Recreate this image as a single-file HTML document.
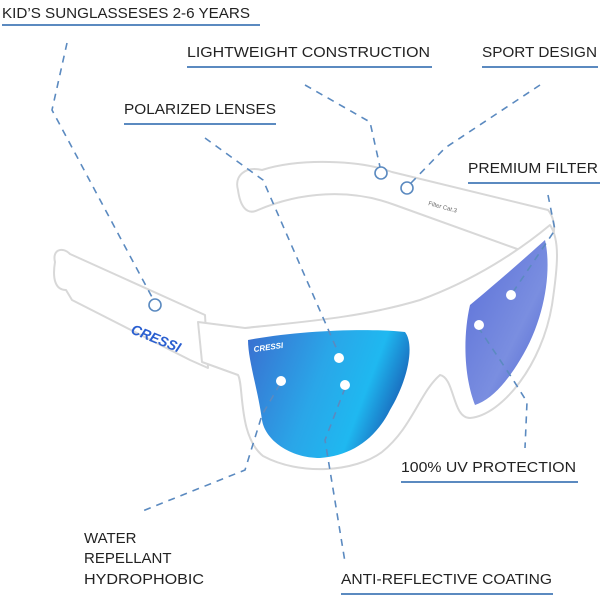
<!DOCTYPE html>
<html><head><meta charset="utf-8"><style>
html,body{margin:0;padding:0;background:#fff;width:600px;height:599px;overflow:hidden}
svg{display:block}
text{font-family:"Liberation Sans",sans-serif;font-size:15px;fill:#222}
</style></head><body>
<svg width="600" height="599" viewBox="0 0 600 599" xmlns="http://www.w3.org/2000/svg">
<defs>
<linearGradient id="gl" x1="0" y1="0" x2="1" y2="0.3">
<stop offset="0" stop-color="#3a6fd0"/><stop offset="0.5" stop-color="#2aa6e8"/><stop offset="0.8" stop-color="#1fb8f0"/><stop offset="1" stop-color="#1a6fc0"/></linearGradient>
<linearGradient id="gr" x1="0" y1="0" x2="1" y2="1">
<stop offset="0" stop-color="#5a6fd8"/><stop offset="0.6" stop-color="#7a8ee0"/><stop offset="1" stop-color="#4a5fd0"/></linearGradient>
</defs>
<!-- frame -->
<g fill="#fff" stroke="#d8d8d8" stroke-width="2" stroke-linejoin="round">
<path d="M55,262 C52,250 62,246 70,254 L205,315 L208,368 L190,360 L72,300 L66,290 C56,290 52,280 55,262Z"/>
<path d="M238,190 C234,176 245,166 262,170 C300,158 360,160 392,172 L548,210 C558,222 556,245 540,250 L520,250 L395,205 C350,188 300,192 258,210 C246,216 240,205 238,190Z"/>
<path d="M198,322 L245,328 C300,322 360,318 420,300 C475,280 520,250 550,225 C560,240 558,265 552,305 C542,365 502,415 470,418 C452,418 455,378 440,375 C420,392 412,428 382,452 C355,472 300,476 263,456 C238,436 244,385 238,375 L202,362Z"/>
</g>
<path d="M248,340 C300,330 370,328 405,332 C415,345 408,380 390,410 C375,440 350,456 320,458 C290,458 265,440 262,420 C258,390 248,360 248,340Z" fill="url(#gl)"/>
<path d="M470,305 C500,280 525,258 545,240 C552,270 545,320 520,360 C505,385 490,400 475,405 C465,380 462,340 470,305Z" fill="url(#gr)"/>
<text x="130" y="333" transform="rotate(22 130 333)" style="font-size:14px;font-weight:bold;fill:#2a5fd0;font-style:italic">CRESSI</text>
<text x="254" y="352" transform="rotate(-8 254 352)" style="font-size:8px;font-weight:bold;fill:#fff;font-style:italic">CRESSI</text>
<text x="428" y="205" transform="rotate(15 428 205)" style="font-size:6px;fill:#666">Filter Cat.3</text>
<!-- dashed connectors -->
<g fill="none" stroke="#5b8ac0" stroke-width="1.6" stroke-dasharray="7,6">
<path d="M67,43 L52,110 L153,299"/>
<path d="M305,85 L370,122 L380,167"/>
<path d="M540,85 L445,148 L411,183"/>
<path d="M205,138 L263,180 L338,352"/>
<path d="M548,195 L555,230 L513,292"/>
<path d="M478,327 L512,378 L527,402 L525,448"/>
<path d="M280,384 L262,415 L245,470 L140,512"/>
<path d="M345,388 L325,440 L345,562"/>
</g>
<g fill="#fff" stroke="#5b8ac0" stroke-width="1.6">
<circle cx="155" cy="305" r="6"/><circle cx="381" cy="173" r="6"/><circle cx="407" cy="188" r="6"/>
</g>
<g fill="#fff"><circle cx="339" cy="358" r="5"/><circle cx="511" cy="295" r="5"/><circle cx="479" cy="325" r="5"/><circle cx="281" cy="381" r="5"/><circle cx="345" cy="385" r="5"/></g>
<!-- labels -->
<text x="2" y="18" textLength="248" lengthAdjust="spacingAndGlyphs">KID’S SUNGLASSESES 2-6 YEARS</text>
<text x="187" y="57" textLength="243" lengthAdjust="spacingAndGlyphs">LIGHTWEIGHT CONSTRUCTION</text>
<text x="482" y="57" textLength="115" lengthAdjust="spacingAndGlyphs">SPORT DESIGN</text>
<text x="124" y="114" textLength="152" lengthAdjust="spacingAndGlyphs">POLARIZED LENSES</text>
<text x="468" y="173" textLength="130" lengthAdjust="spacingAndGlyphs">PREMIUM FILTER</text>
<text x="401" y="472" textLength="175" lengthAdjust="spacingAndGlyphs">100% UV PROTECTION</text>
<text x="84" y="543">WATER</text>
<text x="84" y="563">REPELLANT</text>
<text x="84" y="584" textLength="120" lengthAdjust="spacingAndGlyphs">HYDROPHOBIC</text>
<text x="341" y="584" textLength="211" lengthAdjust="spacingAndGlyphs">ANTI-REFLECTIVE COATING</text>
<g stroke="#5b8ac0" stroke-width="2">
<line x1="2" y1="25" x2="260" y2="25"/>
<line x1="187" y1="67" x2="432" y2="67"/>
<line x1="482" y1="67" x2="598" y2="67"/>
<line x1="124" y1="124" x2="276" y2="124"/>
<line x1="468" y1="183" x2="600" y2="183"/>
<line x1="401" y1="482" x2="578" y2="482"/>
<line x1="341" y1="594" x2="553" y2="594"/>
</g>
</svg>
</body></html>
